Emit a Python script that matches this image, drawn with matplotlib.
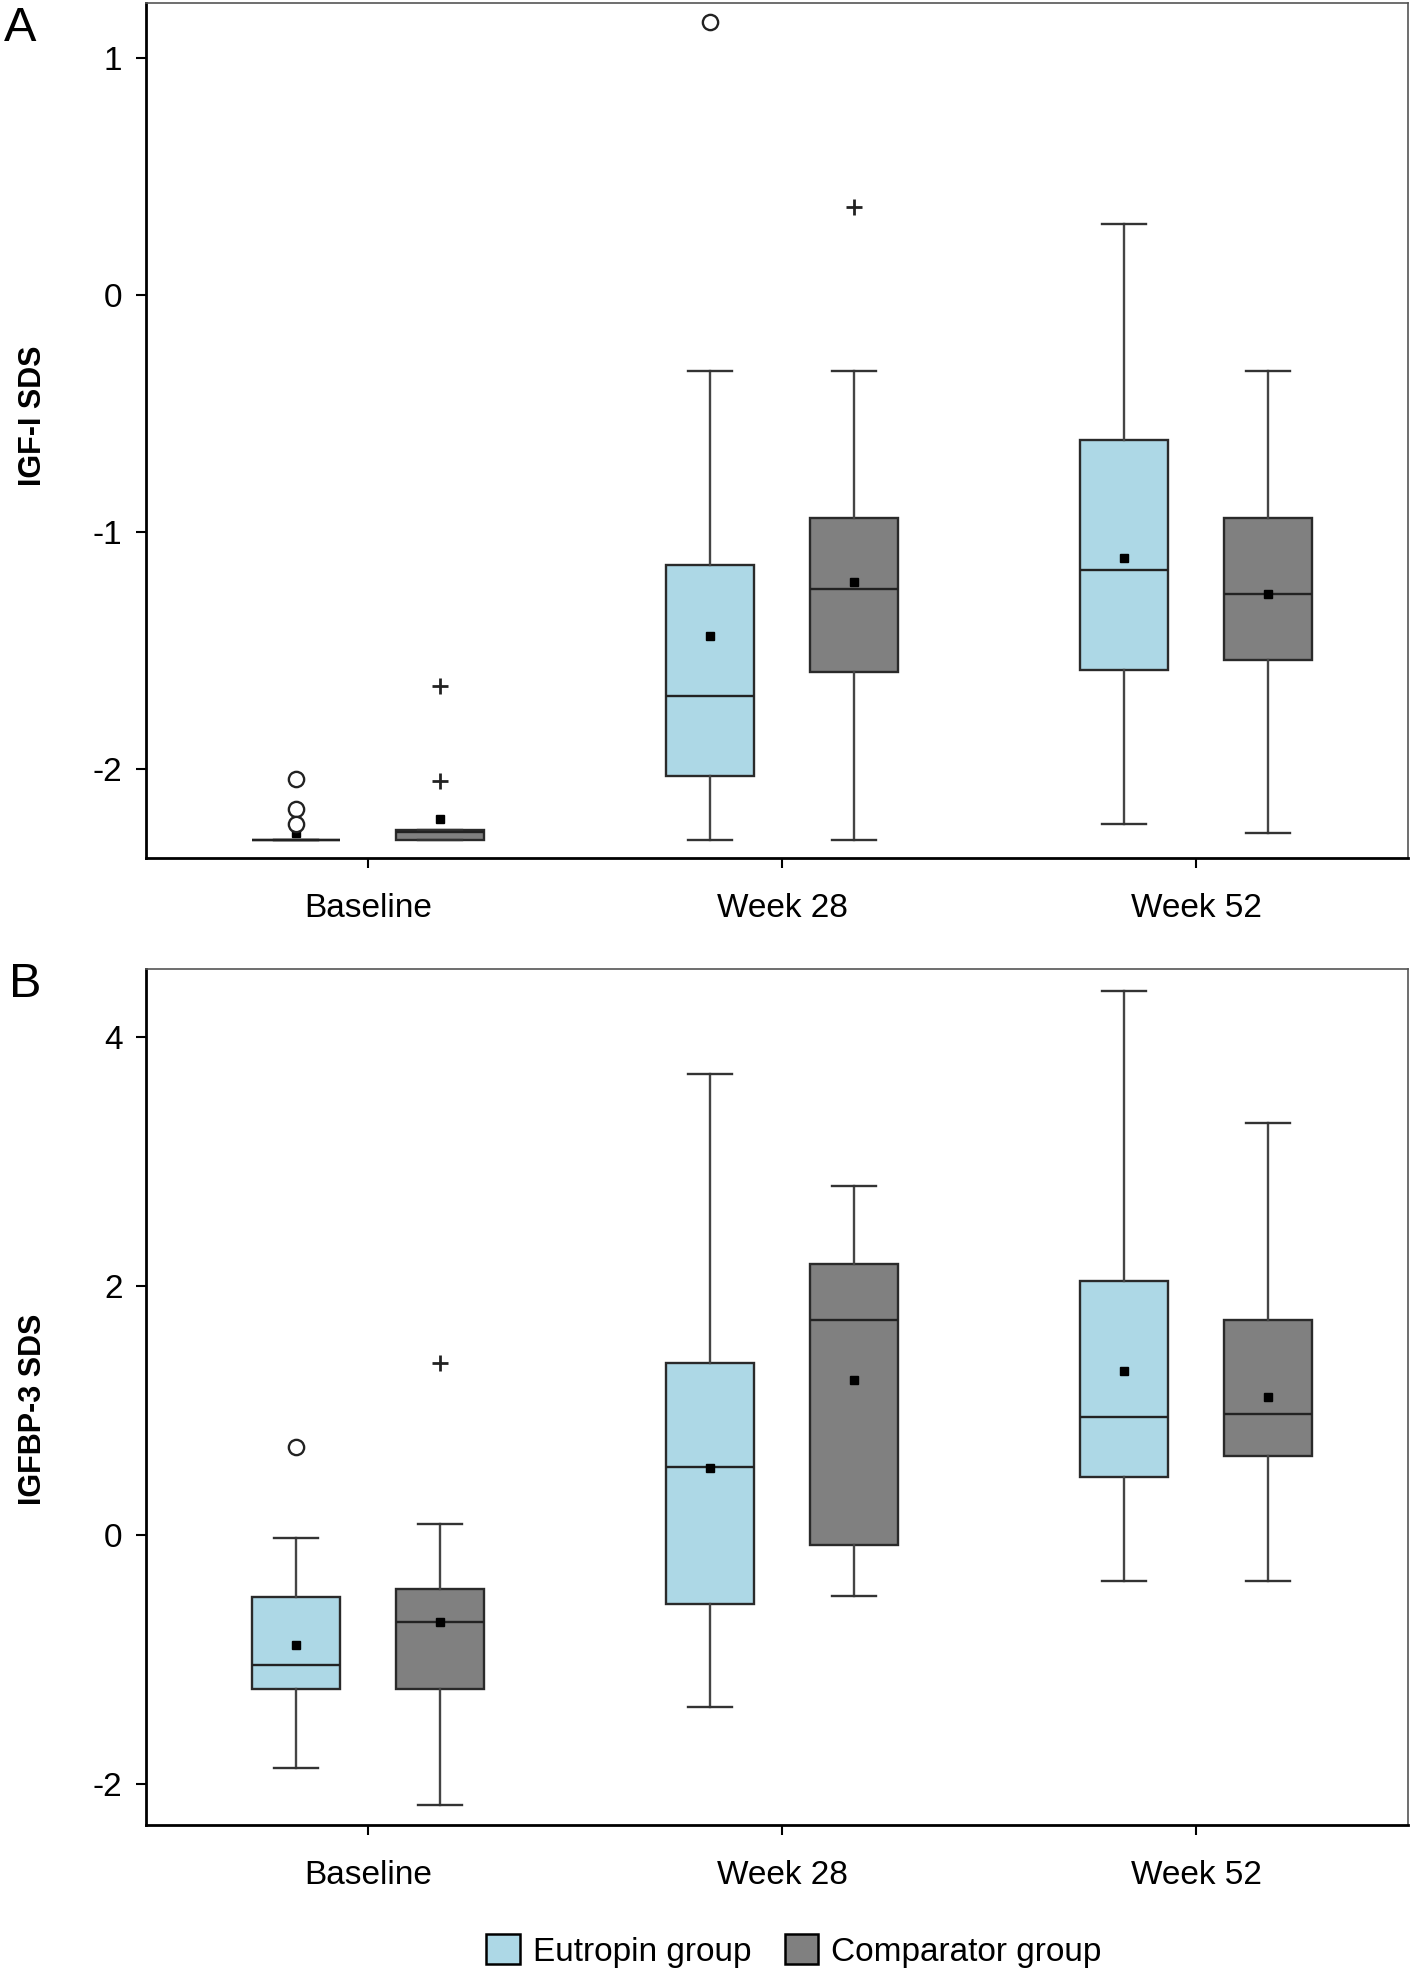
import matplotlib
matplotlib.use('Agg')
import matplotlib.pyplot as plt
from matplotlib.patches import Patch

plt.rcParams['font.family'] = ['Liberation Sans', 'DejaVu Sans']
plt.rcParams['axes.unicode_minus'] = False

groups = ['Baseline', 'Week 28', 'Week 52']
names = ['Eutropin group', 'Comparator group']
colors = ['#add8e6', '#808080']

# panel A: IGF-I SDS
igf_eut_q1 = [-2.30, -2.03, -1.58]
igf_eut_med = [-2.30, -1.69, -1.16]
igf_eut_q3 = [-2.30, -1.14, -0.61]
igf_eut_lo = [-2.30, -2.30, -2.23]
igf_eut_hi = [-2.30, -0.32, 0.30]
igf_eut_mean = [-2.27, -1.44, -1.11]
igf_eut_circ = [[-2.04, -2.17, -2.23], [1.15], []]
igf_eut_plus = [[], [], []]

igf_cmp_q1 = [-2.30, -1.59, -1.54]
igf_cmp_med = [-2.265, -1.24, -1.26]
igf_cmp_q3 = [-2.255, -0.94, -0.94]
igf_cmp_lo = [-2.30, -2.30, -2.27]
igf_cmp_hi = [-2.255, -0.32, -0.32]
igf_cmp_mean = [-2.21, -1.21, -1.26]
igf_cmp_circ = [[], [], []]
igf_cmp_plus = [[-2.05, -1.65], [0.37], []]

# panel B: IGFBP-3 SDS
bp3_eut_q1 = [-1.24, -0.55, 0.47]
bp3_eut_med = [-1.04, 0.55, 0.95]
bp3_eut_q3 = [-0.50, 1.38, 2.04]
bp3_eut_lo = [-1.87, -1.38, -0.37]
bp3_eut_hi = [-0.02, 3.71, 4.37]
bp3_eut_mean = [-0.88, 0.54, 1.32]
bp3_eut_circ = [[0.71], [], []]
bp3_eut_plus = [[], [], []]

bp3_cmp_q1 = [-1.24, -0.08, 0.64]
bp3_cmp_med = [-0.70, 1.73, 0.97]
bp3_cmp_q3 = [-0.43, 2.18, 1.73]
bp3_cmp_lo = [-2.17, -0.49, -0.37]
bp3_cmp_hi = [0.09, 2.81, 3.31]
bp3_cmp_mean = [-0.70, 1.25, 1.11]
bp3_cmp_circ = [[], [], []]
bp3_cmp_plus = [[1.38], [], []]

off = 0.174
bw = 0.213


def stats(q1, med, q3, lo, hi, mean):
    return [dict(q1=a, med=b, q3=c, whislo=d, whishi=e, mean=f, fliers=[])
            for a, b, c, d, e, f in zip(q1, med, q3, lo, hi, mean)]


def panel(ax, series, ylabel, ylim, yticks, lab_y):
    for k, (st, circ, plus) in enumerate(series):
        pos = [i + (2 * k - 1) * off for i in range(len(groups))]
        ax.bxp(st, positions=pos, widths=bw, capwidths=bw / 2, patch_artist=True,
               showmeans=True, showfliers=False,
               boxprops=dict(facecolor=colors[k], edgecolor='#2a2a2a', linewidth=1.7),
               medianprops=dict(color='#222222', linewidth=1.7),
               whiskerprops=dict(color='#444444', linewidth=1.7),
               capprops=dict(color='#333333', linewidth=1.7),
               meanprops=dict(marker='s', markerfacecolor='black',
                              markeredgecolor='black', markersize=6))
        for i in range(len(groups)):
            if circ[i]:
                ax.plot([pos[i]] * len(circ[i]), circ[i], 'o', mfc='white',
                        mec='#222222', mew=1.7, ms=11, zorder=4)
            if plus[i]:
                ax.plot([pos[i]] * len(plus[i]), plus[i], '+', color='#222222',
                        mew=2.0, ms=11, zorder=4)
    ax.set_xlim(-0.536, 2.512)
    ax.set_ylim(*ylim)
    ax.set_xticks(range(len(groups)))
    ax.set_xticklabels(groups)
    ax.set_yticks(yticks)
    ax.tick_params(axis='both', direction='out', length=7, width=1.5,
                   labelsize=24, colors='black')
    ax.tick_params(axis='x', pad=18)
    ax.tick_params(axis='y', pad=10)
    for s in ['left', 'bottom']:
        ax.spines[s].set_linewidth(2.0)
        ax.spines[s].set_color('black')
    for s in ['top', 'right']:
        ax.spines[s].set_linewidth(1.2)
        ax.spines[s].set_color('#555555')
    ax.set_ylabel(ylabel, fontsize=22, fontweight='bold')
    ax.yaxis.set_label_coords(-0.078, lab_y)


fig = plt.figure(figsize=(14.18, 19.76), dpi=100)
axA = fig.add_axes([0.103, 0.5658, 0.890, 0.4327])
axB = fig.add_axes([0.103, 0.0764, 0.890, 0.4332])

panel(axA, [(stats(igf_eut_q1, igf_eut_med, igf_eut_q3, igf_eut_lo, igf_eut_hi, igf_eut_mean),
             igf_eut_circ, igf_eut_plus),
            (stats(igf_cmp_q1, igf_cmp_med, igf_cmp_q3, igf_cmp_lo, igf_cmp_hi, igf_cmp_mean),
             igf_cmp_circ, igf_cmp_plus)],
      'IGF-I SDS', (-2.375, 1.232), [-2, -1, 0, 1], 0.517)
panel(axB, [(stats(bp3_eut_q1, bp3_eut_med, bp3_eut_q3, bp3_eut_lo, bp3_eut_hi, bp3_eut_mean),
             bp3_eut_circ, bp3_eut_plus),
            (stats(bp3_cmp_q1, bp3_cmp_med, bp3_cmp_q3, bp3_cmp_lo, bp3_cmp_hi, bp3_cmp_mean),
             bp3_cmp_circ, bp3_cmp_plus)],
      'IGFBP-3 SDS', (-2.33, 4.55), [-2, 0, 2, 4], 0.486)

fig.text(0.003, 0.997, 'A', fontsize=35, ha='left', va='top')
fig.text(0.006, 0.513, 'B', fontsize=35, ha='left', va='top')

handles = [Patch(facecolor=c, edgecolor='black', linewidth=1.8) for c in colors]
fig.legend(handles, names, loc='center', bbox_to_anchor=(0.56, 0.0127), ncol=2,
           frameon=False, fontsize=24, handlelength=1.0, handleheight=1.0,
           handletextpad=0.4, columnspacing=1.0)

fig.savefig('out.png', dpi=100)
